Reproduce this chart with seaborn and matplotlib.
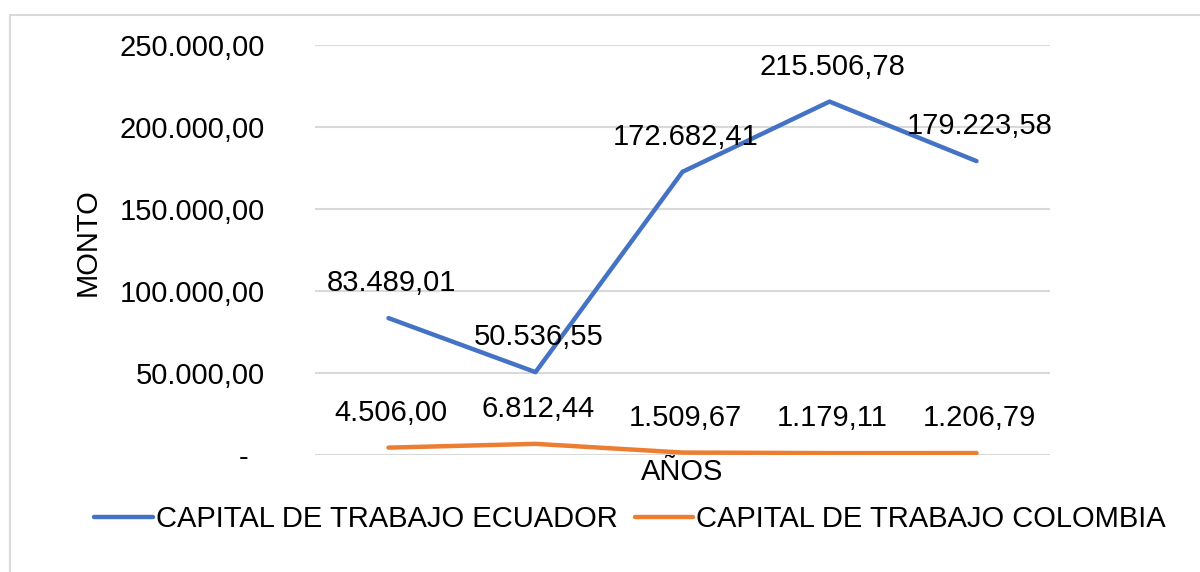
import matplotlib
matplotlib.use("Agg")
import matplotlib.pyplot as plt
import seaborn as sns
import pandas as pd
from matplotlib.patches import Rectangle

years = ["1", "2", "3", "4", "5"]
ecuador = [83489.01, 50536.55, 172682.41, 215506.78, 179223.58]
colombia = [4506.00, 6812.44, 1509.67, 1179.11, 1206.79]
series_names = ["CAPITAL DE TRABAJO ECUADOR", "CAPITAL DE TRABAJO COLOMBIA"]
yticks = [0, 50000, 100000, 150000, 200000, 250000]

def fmt(v):
    s = f"{v:,.2f}"
    return s.replace(",", "X").replace(".", ",").replace("X", ".")

rows = []
for i, y in enumerate(years):
    rows.append({"idx": i, "serie": series_names[0], "monto": ecuador[i]})
    rows.append({"idx": i, "serie": series_names[1], "monto": colombia[i]})
df = pd.DataFrame(rows)

sns.set_theme(style="white")
plt.rcParams['font.family'] = ['Liberation Sans', 'DejaVu Sans']
plt.rcParams['text.color'] = 'black'
plt.rcParams['axes.labelcolor'] = 'black'
plt.rcParams['ytick.color'] = 'black'

FS = 21

fig = plt.figure(figsize=(12, 5.72), dpi=100)
ax = fig.add_axes([0.2625, 0.2045, 0.6125, 0.7168])

palette = {series_names[0]: "#4472C4", series_names[1]: "#ED7D31"}
sns.lineplot(data=df, x="idx", y="monto", hue="serie", palette=palette,
             linewidth=3.2, ax=ax, legend=True, solid_capstyle="round")

ax.set_xlim(-0.5, 4.5)
ax.set_ylim(0, 250000)
ax.set_yticks(yticks)
ax.set_yticklabels([fmt(v) if v else "-  " for v in yticks], fontsize=FS)
ax.tick_params(axis="y", length=0, pad=36)
ax.set_xticks([])
ax.yaxis.grid(True, color="#D9D9D9", linewidth=1.5)
ax.set_axisbelow(True)
for s in ax.spines.values():
    s.set_visible(False)

ax.set_xlabel("AÑOS", fontsize=FS, labelpad=2)
ax.set_ylabel("MONTO", fontsize=FS)
ax.yaxis.set_label_coords(-0.290, 0.52)

for i in range(len(years)):
    ax.annotate(fmt(ecuador[i]), (i, ecuador[i]), xytext=(2, 25), textcoords="offset points",
                ha="center", va="center", fontsize=FS)
    ax.annotate(fmt(colombia[i]), (i, colombia[i]), xytext=(2, 25), textcoords="offset points",
                ha="center", va="center", fontsize=FS)

handles, labels = ax.get_legend_handles_labels()
ax.legend(handles, labels, loc="center", bbox_to_anchor=(0.525, 0.092),
          bbox_transform=fig.transFigure, ncol=2, frameon=False, fontsize=FS,
          handlelength=2.0, handletextpad=0.1, columnspacing=0.6)

fig.patches.append(Rectangle((0.0083, -0.1), 1.2, 1.074, transform=fig.transFigure,
                             fill=False, edgecolor="#D9D9D9", linewidth=1.5))

fig.savefig("out.png", dpi=100)
